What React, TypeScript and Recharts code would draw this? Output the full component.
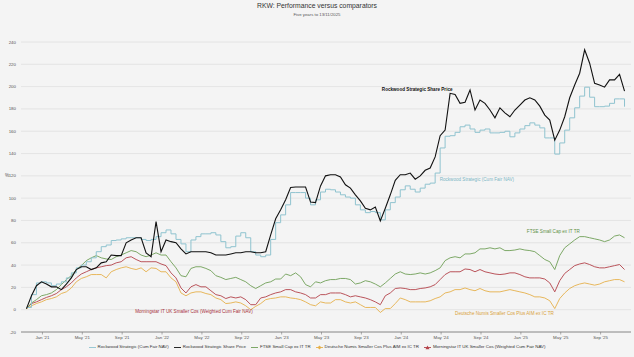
import { LineChart, Line, XAxis, YAxis, CartesianGrid, ReferenceDot } from 'recharts';

// half-monthly points, starting 13/11/2020 and ending 13/11/2025 (% total return)
const shareValues = [
  1, 12.5, 21.5, 25, 23, 20.5, 20.5, 18, 23, 28.5,
  36, 38.5, 38.5, 36, 37.5, 42, 43, 49, 48.5, 48.5,
  60, 62.5, 64.5, 64.5, 51, 47.5, 79, 52, 62.5, 61,
  60, 54.5, 50, 52, 52, 52, 52, 51, 49, 49,
  49, 50, 51, 51, 52, 52, 51, 51, 52, 67,
  81.5, 89.5, 98.5, 109.5, 110, 110, 110, 96.5, 96, 111,
  120, 121, 121, 119, 112, 109, 103, 97.5, 91, 89.5,
  92, 79.5, 91, 103, 116, 121, 121, 122.5, 117, 120,
  125, 127, 137, 156, 161, 194, 193, 185, 186, 197,
  179, 188, 185, 179, 172, 181, 176.5, 173, 179, 183.5,
  188, 190, 188, 182.5, 174.5, 170, 152, 161, 173, 190,
  201.5, 212, 233, 221, 203, 201.5, 199.5, 206, 206, 211,
  196,
];

const navValues = [
  2, 13.5, 24, 25, 24, 21.5, 23, 25, 28.5, 33,
  37.5, 40, 43, 46.5, 52, 56.5, 58, 62, 62.5, 63.5,
  64.5, 64.5, 64.5, 63, 62, 63, 65.5, 69, 71.5, 68,
  63, 59, 52, 62.5, 65.5, 68, 68, 69, 67, 61,
  55.5, 56.5, 66, 69, 64.5, 52, 49, 47.5, 49, 63,
  78, 85, 94, 105, 105, 105, 100, 94, 98.5, 105.5,
  108, 107.5, 105.5, 103, 101, 100, 94, 89.5, 87, 88,
  87, 80.5, 89.5, 96, 101, 107.5, 111, 108, 105.5, 109,
  112.5, 113.5, 122.5, 145, 155.5, 156, 159, 164, 165.5, 162,
  159, 161, 162, 158.5, 158.5, 159, 160, 155, 158.5, 162,
  165, 167.5, 165.5, 163, 154, 154, 139.5, 149.5, 161, 172,
  181, 191.5, 199.5, 190.5, 182, 182, 182.5, 185, 189, 189,
  182,
];

const ftseValues = [
  1, 6, 9, 12.5, 13.5, 15, 18, 22.5, 27, 30.5,
  36, 39.5, 44, 46.5, 48.5, 46.5, 45.5, 45, 47.5, 49,
  51, 53, 52, 49, 47.5, 49, 51, 49, 49, 43,
  37.5, 30.5, 29.5, 37, 38.5, 38.5, 37, 35, 30.5, 29,
  27, 28, 29, 27, 25, 21.5, 19, 21.5, 24, 25,
  27.5, 27.5, 32, 30.5, 33, 29.5, 22.5, 20.5, 25, 24,
  26, 27, 27, 28, 28, 27, 23, 24, 26, 25,
  23, 20.5, 24, 28, 32, 34, 32, 31.5, 32, 33,
  32, 33, 35, 37.5, 44, 46.5, 47.5, 46.5, 50, 50,
  51, 54.5, 54.5, 55.5, 54.5, 55.5, 53, 53, 53.5, 54.5,
  53.5, 53, 52, 48.5, 45, 43, 36, 48.5, 55.5, 59,
  62.5, 65.5, 65.5, 64.5, 63.5, 62.5, 61, 62.5, 66, 67,
  64.5,
];

const numisValues = [
  1, 3.5, 5.5, 7, 9, 10, 11.5, 14.5, 16, 19.5,
  25, 28, 29.5, 31.5, 31.5, 31.5, 28.5, 34, 36, 37.5,
  38.5, 37, 36, 37.5, 34, 37.5, 37, 34, 34, 28.5,
  25, 15, 12.5, 15, 16, 16, 14.5, 13.5, 10.5, 9,
  5.5, 6, 7, 6, 3.5, 0, 3, 5.5, 9, 10,
  10.5, 11.5, 11.5, 10.5, 10, 9, 7, 4.5, 3.5, 7,
  6, 6, 9, 9, 7, 6, 7, 4.5, 2, 2,
  2, -2.5, 1, 1, 5.5, 10.5, 9, 7, 7, 7,
  7, 8, 10, 11.5, 15, 16, 18, 18, 19.5, 18,
  17, 19, 17, 16, 16, 16, 17, 18, 17, 16,
  15, 13.5, 11.5, 11.5, 10.5, 8, 1, 10, 15, 19,
  21.5, 23, 24, 23, 22, 23, 25, 26, 27, 27,
  25,
];

const morningstarValues = [
  1, 5.5, 7, 9, 11, 12.5, 14.5, 18, 20.5, 24,
  28.5, 32, 34, 36, 37.5, 38.5, 39.5, 40, 42, 43,
  46.5, 47.5, 45, 43, 43, 43, 43, 41, 39.5, 33,
  28.5, 19.5, 15, 20.5, 22.5, 20.5, 20.5, 17, 13.5, 12.5,
  10, 11.5, 10.5, 11.5, 9, 4.5, 4.5, 10.5, 11.5, 13.5,
  15, 16, 18, 18, 16, 15, 13.5, 10.5, 10.5, 13.5,
  13.5, 15, 15, 15, 13.5, 11.5, 12.5, 11.5, 10.5, 9,
  7, 4.5, 12.5, 15, 19, 19.5, 19, 18, 18, 19,
  19.5, 20.5, 22.5, 27, 31.5, 34, 34, 34, 36.5, 36,
  34, 36, 34, 33, 32, 31.5, 32, 33, 33, 31.5,
  29.5, 28.5, 28.5, 28.5, 27.5, 24, 16, 26, 32.5, 36,
  39.5, 41, 42, 40.5, 38.5, 37.5, 37.5, 38.5, 39.5, 40.5,
  36,
];

const xTickLabels = [
  "Jan '21", "May '21", "Sep '21", "Jan '22", "May '22", "Sep '22", "Jan '23", "May '23",
  "Sep '23", "Jan '24", "May '24", "Sep '24", "Jan '25", "May '25", "Sep '25",
];
const yTicks = [-20, 0, 20, 40, 60, 80, 100, 120, 140, 160, 180, 200, 220, 240];

const COLORS = {
  nav: '#8fc3cf',
  share: '#111111',
  ftse: '#6f9f57',
  numis: '#e5b04b',
  morningstar: '#b3424a',
};

const FONT = '"Liberation Sans", Arial, sans-serif';

const data = shareValues.map((v, i) => ({
  i,
  share: v,
  nav: navValues[i],
  ftse: ftseValues[i],
  numis: numisValues[i],
  morningstar: morningstarValues[i],
}));

// Jan '21 sits ~3.2 half-months after the start, then every 4 months
const xTicks = xTickLabels.map((_, k) => 3.2 + 8 * k);

const legendItems = [
  { name: 'Rockwood Strategic (Cum Fair NAV)', color: COLORS.nav, marker: 'none' },
  { name: 'Rockwood Strategic Share Price', color: COLORS.share, marker: 'none' },
  { name: 'FTSE Small Cap ex IT TR', color: COLORS.ftse, marker: 'none' },
  { name: 'Deutsche Numis Smaller Cos Plus AIM ex IC TR', color: COLORS.numis, marker: 'diamond' },
  { name: 'Morningstar IT UK Smaller Cos (Weighted Cum Fair NAV)', color: COLORS.morningstar, marker: 'triangle' },
];

function Swatch({ color, marker }: { color: string; marker: string }) {
  return (
    <svg width={7} height={5} style={{ marginRight: 2 }}>
      <line x1={0} y1={2.5} x2={7} y2={2.5} stroke={color} strokeWidth={0.9} />
      {marker === 'diamond' && <path d="M3.5 0.5 L5.5 2.5 L3.5 4.5 L1.5 2.5 Z" fill={color} />}
      {marker === 'triangle' && <path d="M3.5 0.5 L5.5 4.3 L1.5 4.3 Z" fill={color} />}
    </svg>
  );
}

const seriesLabel = (text: string, color: string, weight = 400) => ({
  value: text,
  position: 'right' as const,
  offset: 0,
  fill: color,
  fontSize: 4.6,
  fontWeight: weight,
  fontFamily: FONT,
});

export default function App() {
  return (
    <div
      style={{
        position: 'fixed',
        left: 0,
        top: 0,
        width: 634,
        height: 357,
        background: '#f4f4f4',
        fontFamily: FONT,
        overflow: 'hidden',
      }}
    >
      <div style={{ position: 'absolute', top: 2, width: 634, textAlign: 'center', fontSize: 6.8, color: '#333' }}>
        RKW: Performance versus comparators
      </div>
      <div style={{ position: 'absolute', top: 11.5, width: 634, textAlign: 'center', fontSize: 4.3, color: '#555' }}>
        Five years to 13/11/2025
      </div>
      <div style={{ position: 'absolute', left: 5, top: 173, fontSize: 4.6, color: '#555' }}>%</div>

      <LineChart width={634} height={357} data={data} margin={{ top: 42, right: 3, bottom: 13, left: 0 }}>
        <CartesianGrid stroke="#e0e0e0" strokeWidth={0.8} vertical={false} />
        <XAxis
          dataKey="i"
          type="number"
          domain={[-1.1, 121.3]}
          ticks={xTicks}
          tickFormatter={(v: number) => xTickLabels[Math.round((v - 3.2) / 8)]}
          height={12}
          tick={{ fontSize: 4.4, fill: '#555', fontFamily: FONT }}
          tickSize={2.5}
          tickMargin={1}
          axisLine={{ stroke: '#777', strokeWidth: 0.8 }}
          tickLine={{ stroke: '#777', strokeWidth: 0.6 }}
          interval={0}
          allowDataOverflow
        />
        <YAxis
          domain={[-20, 240]}
          ticks={yTicks}
          width={21}
          tick={{ fontSize: 4.4, fill: '#555', fontFamily: FONT }}
          tickSize={0}
          tickMargin={5}
          axisLine={false}
          interval={0}
        />
        <Line dataKey="numis" stroke={COLORS.numis} strokeWidth={0.9} dot={false} isAnimationActive={false} type="linear" />
        <Line dataKey="morningstar" stroke={COLORS.morningstar} strokeWidth={0.9} dot={false} isAnimationActive={false} type="linear" />
        <Line dataKey="ftse" stroke={COLORS.ftse} strokeWidth={0.9} dot={false} isAnimationActive={false} type="linear" />
        <Line dataKey="nav" stroke={COLORS.nav} strokeWidth={1} dot={false} isAnimationActive={false} type="stepAfter" />
        <Line dataKey="share" stroke={COLORS.share} strokeWidth={1.1} dot={false} isAnimationActive={false} type="linear" />

        <ReferenceDot x={71.3} y={197.5} r={0} label={seriesLabel('Rockwood Strategic Share Price', '#111', 700)} />
        <ReferenceDot x={82.9} y={116.4} r={0} label={seriesLabel('Rockwood Strategic (Cum Fair NAV)', '#7db6c4')} />
        <ReferenceDot x={100.4} y={69.8} r={0} label={seriesLabel('FTSE Small Cap ex IT TR', '#5f9148')} />
        <ReferenceDot x={86} y={-3.6} r={0} label={seriesLabel('Deutsche Numis Smaller Cos Plus AIM ex IC TR', '#d9a23a')} />
        <ReferenceDot x={21.8} y={-1.8} r={0} label={seriesLabel('Morningstar IT UK Smaller Cos (Weighted Cum Fair NAV)', '#a8323c')} />
      </LineChart>

      <div
        style={{
          position: 'absolute',
          top: 344,
          left: 0,
          width: 634,
          display: 'flex',
          justifyContent: 'center',
          gap: 5,
          fontSize: 4.4,
          color: '#333',
          lineHeight: '6px',
        }}
      >
        {legendItems.map((it) => (
          <div key={it.name} style={{ display: 'flex', alignItems: 'center' }}>
            <Swatch color={it.color} marker={it.marker} />
            <span>{it.name}</span>
          </div>
        ))}
      </div>
    </div>
  );
}
